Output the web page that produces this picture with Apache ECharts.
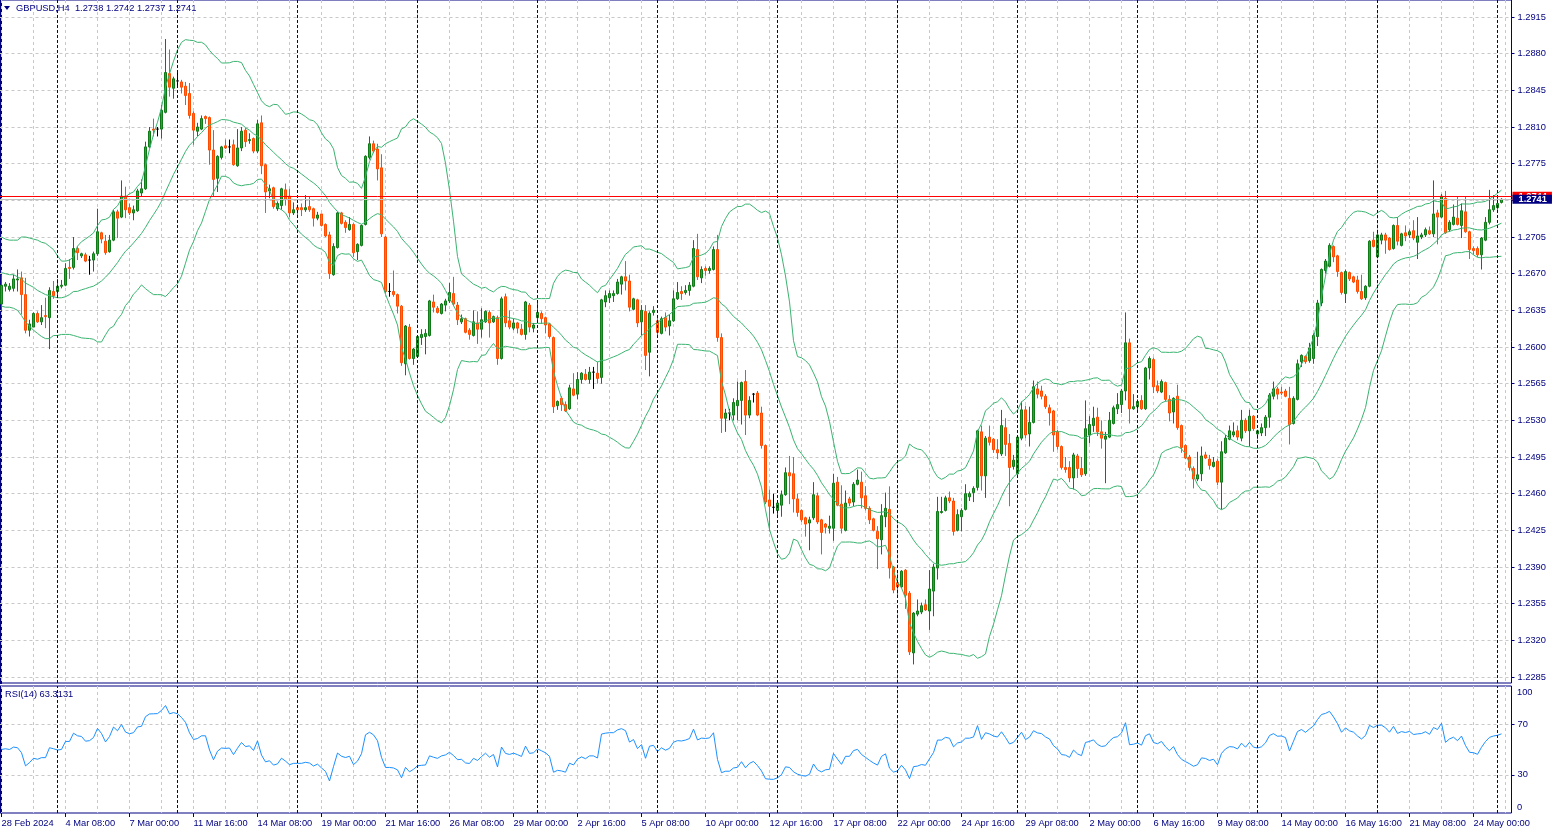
<!DOCTYPE html>
<html>
<head>
<meta charset="utf-8">
<title>GBPUSD,H4</title>
<script src="https://cdn.jsdelivr.net/npm/echarts@6/dist/echarts.min.js"></script>
<style>
  html, body { margin: 0; padding: 0; background: #fff; }
  #chart { width: 1554px; height: 836px; }
</style>
</head>
<body>
<div id="chart"></div>
<script>
// GBPUSD H4 bars, 28 Feb 2024 16:00 .. 27 May 2024 04:00
const opens = [
  1.2641,1.2658,1.2655,1.2656,1.2664,1.2666,1.2650,1.2616,1.2619,1.2632,
  1.2624,1.2630,1.2628,1.2653,1.2653,1.2658,1.2659,1.2676,1.2676,1.2694,
  1.2687,1.2688,1.2683,1.2683,1.2689,1.2709,1.2701,1.2691,1.2702,1.2729,
  1.2724,1.2744,1.2733,1.2728,1.2730,1.2747,1.2751,1.2791,1.2808,1.2808,
  1.2808,1.2824,1.2861,1.2847,1.2854,1.2853,1.2849,1.2842,1.2823,1.2806,
  1.2808,1.2820,1.2819,1.2788,1.2761,1.2781,1.2792,1.2791,1.2793,1.2773,
  1.2790,1.2807,1.2797,1.2799,1.2787,1.2814,1.2774,1.2749,1.2752,1.2732,
  1.2735,1.2750,1.2744,1.2728,1.2733,1.2733,1.2731,1.2734,1.2732,1.2723,
  1.2727,1.2717,1.2707,1.2669,1.2695,1.2728,1.2719,1.2712,1.2717,1.2691,
  1.2697,1.2717,1.2781,1.2794,1.2789,1.2771,1.2705,1.2653,1.2653,1.2650,
  1.2639,1.2584,1.2619,1.2589,1.2591,1.2609,1.2610,1.2611,1.2643,1.2637,
  1.2632,1.2640,1.2644,1.2651,1.2640,1.2624,1.2627,1.2616,1.2611,1.2623,
  1.2617,1.2624,1.2633,1.2624,1.2628,1.2589,1.2648,1.2625,1.2618,1.2623,
  1.2617,1.2612,1.2640,1.2618,1.2628,1.2632,1.2628,1.2622,1.2609,1.2544,
  1.2551,1.2545,1.2541,1.2560,1.2555,1.2569,1.2574,1.2569,1.2576,1.2575,
  1.2571,1.2643,1.2647,1.2649,1.2651,1.2660,1.2667,1.2663,1.2636,1.2645,
  1.2624,1.2634,1.2595,1.2633,1.2625,1.2613,1.2628,1.2620,1.2625,1.2646,
  1.2653,1.2652,1.2654,1.2658,1.2693,1.2666,1.2675,1.2673,1.2674,1.2693,
  1.2609,1.2532,1.2537,1.2535,1.2544,1.2549,1.2567,1.2535,1.2555,1.2556,
  1.2537,1.2506,1.2454,1.2447,1.2444,1.2449,1.2459,1.2480,1.2479,1.2455,
  1.2444,1.2437,1.2432,1.2437,1.2458,1.2435,1.2431,1.2427,1.2427,1.2471,
  1.2450,1.2425,1.2455,1.2452,1.2469,1.2471,1.2458,1.2446,1.2436,1.2424,
  1.2416,1.2438,1.2445,1.2390,1.2375,1.2371,1.2387,1.2365,1.2308,1.2345,
  1.2347,1.2354,1.2348,1.2367,1.2389,1.2442,1.2444,1.2456,1.2453,1.2425,
  1.2438,1.2445,1.2457,1.2461,1.2466,1.2519,1.2477,1.2514,1.2512,1.2502,
  1.2498,1.2523,1.2508,1.2486,1.2479,1.2513,1.2540,1.2517,1.2528,1.2560,
  1.2558,1.2553,1.2542,1.2539,1.2519,1.2505,1.2485,1.2485,1.2475,1.2496,
  1.2484,1.2479,1.2516,1.2525,1.2533,1.2519,1.2512,1.2514,1.2527,1.2541,
  1.2545,1.2558,1.2604,1.2541,1.2543,1.2549,1.2541,1.2580,1.2588,1.2563,
  1.2557,1.2566,1.2550,1.2538,1.2553,1.2525,1.2506,1.2495,1.2484,1.2474,
  1.2479,1.2497,1.2493,1.2486,1.2491,1.2471,1.2499,1.2512,1.2516,1.2520,
  1.2513,1.2530,1.2520,1.2534,1.2517,1.2518,1.2523,1.2533,1.2553,1.2560,
  1.2557,1.2558,1.2551,1.2527,1.2550,1.2586,1.2591,1.2587,1.2589,1.2610,
  1.2642,1.2673,1.2677,1.2696,1.2687,1.2671,1.2651,1.2671,1.2667,1.2664,
  1.2653,1.2647,1.2658,1.2702,1.2686,1.2702,1.2707,1.2704,1.2694,1.2716,
  1.2697,1.2709,1.2707,1.2711,1.2700,1.2705,1.2707,1.2711,1.2708,1.2728,
  1.2724,1.2742,1.2712,1.2717,1.2723,1.2716,1.2729,1.2710,1.2694,1.2694,
  1.2688,1.2702,1.2719,1.2731,1.2733,1.2738
];
const highs = [
  1.2669,1.2662,1.2661,1.2669,1.2674,1.2672,1.2666,1.2626,1.2633,1.2634,
  1.2640,1.2647,1.2657,1.2663,1.2665,1.2664,1.2680,1.2684,1.2705,1.2696,
  1.2690,1.2690,1.2687,1.2691,1.2732,1.2710,1.2707,1.2707,1.2731,1.2731,
  1.2759,1.2753,1.2737,1.2735,1.2751,1.2760,1.2796,1.2810,1.2818,1.2810,
  1.2831,1.2894,1.2884,1.2858,1.2862,1.2855,1.2853,1.2852,1.2825,1.2814,
  1.2821,1.2821,1.2820,1.2807,1.2783,1.2792,1.2798,1.2798,1.2798,1.2808,
  1.2810,1.2809,1.2804,1.2800,1.2817,1.2821,1.2775,1.2755,1.2753,1.2739,
  1.2752,1.2756,1.2751,1.2738,1.2736,1.2737,1.2745,1.2744,1.2733,1.2729,
  1.2727,1.2718,1.2710,1.2699,1.2729,1.2729,1.2721,1.2724,1.2718,1.2699,
  1.2717,1.2783,1.2801,1.2797,1.2794,1.2784,1.2706,1.2661,1.2673,1.2651,
  1.2640,1.2621,1.2622,1.2599,1.2611,1.2617,1.2617,1.2645,1.2650,1.2639,
  1.2642,1.2646,1.2661,1.2667,1.2643,1.2631,1.2628,1.2618,1.2635,1.2634,
  1.2637,1.2635,1.2635,1.2630,1.2630,1.2648,1.2651,1.2635,1.2627,1.2624,
  1.2622,1.2644,1.2642,1.2623,1.2642,1.2634,1.2629,1.2623,1.2610,1.2549,
  1.2553,1.2548,1.2564,1.2575,1.2576,1.2576,1.2579,1.2581,1.2581,1.2586,
  1.2646,1.2654,1.2654,1.2654,1.2665,1.2668,1.2682,1.2669,1.2647,1.2646,
  1.2640,1.2640,1.2634,1.2639,1.2629,1.2629,1.2633,1.2631,1.2654,1.2662,
  1.2658,1.2659,1.2662,1.2702,1.2708,1.2677,1.2677,1.2677,1.2696,1.2707,
  1.2613,1.2541,1.2541,1.2551,1.2567,1.2567,1.2578,1.2553,1.2556,1.2558,
  1.2543,1.2507,1.2464,1.2460,1.2452,1.2463,1.2485,1.2496,1.2495,1.2460,
  1.2445,1.2438,1.2438,1.2471,1.2461,1.2436,1.2432,1.2439,1.2479,1.2476,
  1.2468,1.2463,1.2457,1.2471,1.2483,1.2481,1.2467,1.2448,1.2437,1.2429,
  1.2450,1.2461,1.2467,1.2391,1.2384,1.2387,1.2388,1.2367,1.2347,1.2359,
  1.2356,1.2359,1.2387,1.2393,1.2457,1.2457,1.2458,1.2462,1.2456,1.2445,
  1.2446,1.2469,1.2462,1.2467,1.2521,1.2525,1.2515,1.2525,1.2513,1.2512,
  1.2540,1.2532,1.2517,1.2497,1.2515,1.2548,1.2544,1.2543,1.2568,1.2567,
  1.2563,1.2555,1.2545,1.2540,1.2521,1.2506,1.2495,1.2491,1.2499,1.2498,
  1.2495,1.2549,1.2534,1.2543,1.2542,1.2530,1.2519,1.2538,1.2544,1.2556,
  1.2560,1.2633,1.2608,1.2555,1.2550,1.2554,1.2581,1.2591,1.2590,1.2568,
  1.2569,1.2567,1.2554,1.2552,1.2564,1.2526,1.2507,1.2497,1.2486,1.2500,
  1.2505,1.2500,1.2497,1.2495,1.2493,1.2510,1.2516,1.2525,1.2528,1.2525,
  1.2540,1.2532,1.2540,1.2535,1.2521,1.2527,1.2535,1.2556,1.2567,1.2562,
  1.2562,1.2560,1.2562,1.2553,1.2588,1.2593,1.2592,1.2604,1.2613,1.2645,
  1.2675,1.2684,1.2699,1.2697,1.2688,1.2672,1.2674,1.2672,1.2668,1.2668,
  1.2669,1.2659,1.2702,1.2710,1.2709,1.2709,1.2709,1.2705,1.2717,1.2724,
  1.2709,1.2716,1.2712,1.2721,1.2724,1.2709,1.2714,1.2715,1.2759,1.2731,
  1.2746,1.2749,1.2721,1.2736,1.2744,1.2737,1.2744,1.2711,1.2696,1.2696,
  1.2705,1.2724,1.2750,1.2745,1.2744,1.2742
];
const lows = [
  1.2634,1.2653,1.2653,1.2653,1.2653,1.2631,1.2613,1.2610,1.2619,1.2623,
  1.2621,1.2618,1.2598,1.2646,1.2648,1.2656,1.2658,1.2665,1.2674,1.2683,
  1.2685,1.2681,1.2669,1.2672,1.2687,1.2699,1.2688,1.2690,1.2701,1.2704,
  1.2723,1.2723,1.2726,1.2721,1.2729,1.2744,1.2750,1.2790,1.2801,1.2801,
  1.2799,1.2823,1.2839,1.2837,1.2849,1.2842,1.2831,1.2818,1.2793,1.2801,
  1.2807,1.2813,1.2774,1.2744,1.2748,1.2779,1.2789,1.2785,1.2773,1.2772,
  1.2787,1.2791,1.2794,1.2785,1.2785,1.2765,1.2728,1.2742,1.2732,1.2730,
  1.2731,1.2735,1.2724,1.2726,1.2724,1.2725,1.2729,1.2729,1.2715,1.2721,
  1.2715,1.2705,1.2665,1.2668,1.2694,1.2717,1.2709,1.2711,1.2686,1.2683,
  1.2696,1.2716,1.2779,1.2785,1.2759,1.2705,1.2651,1.2648,1.2648,1.2632,
  1.2582,1.2573,1.2588,1.2583,1.2590,1.2602,1.2593,1.2610,1.2633,1.2632,
  1.2631,1.2634,1.2642,1.2639,1.2621,1.2622,1.2613,1.2607,1.2610,1.2603,
  1.2609,1.2623,1.2609,1.2623,1.2583,1.2588,1.2619,1.2617,1.2616,1.2613,
  1.2611,1.2607,1.2614,1.2614,1.2624,1.2622,1.2613,1.2608,1.2537,1.2540,
  1.2539,1.2538,1.2540,1.2553,1.2550,1.2565,1.2568,1.2565,1.2560,1.2565,
  1.2565,1.2638,1.2642,1.2643,1.2650,1.2650,1.2654,1.2634,1.2635,1.2619,
  1.2611,1.2578,1.2572,1.2630,1.2611,1.2612,1.2615,1.2611,1.2624,1.2645,
  1.2645,1.2650,1.2649,1.2657,1.2664,1.2661,1.2668,1.2670,1.2673,1.2605,
  1.2518,1.2519,1.2530,1.2530,1.2530,1.2526,1.2516,1.2532,1.2547,1.2534,
  1.2503,1.2450,1.2424,1.2441,1.2437,1.2438,1.2458,1.2450,1.2442,1.2438,
  1.2433,1.2419,1.2406,1.2435,1.2431,1.2402,1.2422,1.2422,1.2415,1.2448,
  1.2422,1.2424,1.2448,1.2448,1.2468,1.2446,1.2444,1.2431,1.2424,1.2388,
  1.2402,1.2428,1.2379,1.2365,1.2363,1.2370,1.2350,1.2306,1.2297,1.2343,
  1.2345,1.2348,1.2330,1.2343,1.2378,1.2441,1.2443,1.2451,1.2420,1.2424,
  1.2424,1.2444,1.2453,1.2452,1.2463,1.2463,1.2456,1.2506,1.2499,1.2493,
  1.2496,1.2496,1.2448,1.2483,1.2478,1.2511,1.2513,1.2505,1.2527,1.2551,
  1.2550,1.2541,1.2525,1.2500,1.2502,1.2483,1.2480,1.2471,1.2464,1.2475,
  1.2476,1.2477,1.2508,1.2519,1.2515,1.2503,1.2470,1.2513,1.2526,1.2536,
  1.2537,1.2549,1.2527,1.2540,1.2537,1.2540,1.2540,1.2569,1.2556,1.2556,
  1.2556,1.2548,1.2529,1.2527,1.2521,1.2499,1.2493,1.2482,1.2465,1.2472,
  1.2472,1.2493,1.2483,1.2485,1.2468,1.2445,1.2498,1.2511,1.2514,1.2511,
  1.2510,1.2518,1.2505,1.2520,1.2512,1.2515,1.2515,1.2523,1.2550,1.2550,
  1.2554,1.2552,1.2507,1.2526,1.2549,1.2581,1.2584,1.2585,1.2584,1.2601,
  1.2639,1.2670,1.2676,1.2681,1.2667,1.2650,1.2642,1.2663,1.2661,1.2651,
  1.2645,1.2645,1.2657,1.2695,1.2685,1.2698,1.2689,1.2692,1.2693,1.2697,
  1.2696,1.2701,1.2704,1.2702,1.2684,1.2703,1.2705,1.2707,1.2705,1.2698,
  1.2723,1.2708,1.2710,1.2716,1.2716,1.2704,1.2709,1.2684,1.2688,1.2686,
  1.2674,1.2701,1.2717,1.2729,1.2731,1.2737
];
const closes = [
  1.2659,1.2660,1.2658,1.2665,1.2665,1.2650,1.2616,1.2622,1.2632,1.2624,
  1.2628,1.2629,1.2654,1.2649,1.2658,1.2659,1.2675,1.2675,1.2694,1.2690,
  1.2689,1.2682,1.2683,1.2689,1.2710,1.2703,1.2690,1.2702,1.2729,1.2723,
  1.2744,1.2731,1.2728,1.2731,1.2749,1.2751,1.2791,1.2806,1.2807,1.2808,
  1.2826,1.2862,1.2848,1.2856,1.2854,1.2848,1.2840,1.2821,1.2807,1.2810,
  1.2818,1.2818,1.2788,1.2760,1.2782,1.2791,1.2790,1.2791,1.2774,1.2790,
  1.2806,1.2796,1.2798,1.2787,1.2813,1.2773,1.2748,1.2751,1.2734,1.2737,
  1.2751,1.2741,1.2728,1.2731,1.2731,1.2731,1.2733,1.2731,1.2723,1.2726,
  1.2716,1.2706,1.2670,1.2696,1.2728,1.2718,1.2714,1.2717,1.2690,1.2698,
  1.2716,1.2782,1.2794,1.2787,1.2770,1.2708,1.2653,1.2653,1.2650,1.2639,
  1.2585,1.2620,1.2589,1.2598,1.2610,1.2612,1.2613,1.2644,1.2638,1.2633,
  1.2641,1.2644,1.2652,1.2641,1.2626,1.2627,1.2614,1.2612,1.2624,1.2617,
  1.2626,1.2634,1.2623,1.2629,1.2589,1.2646,1.2623,1.2619,1.2623,1.2618,
  1.2612,1.2643,1.2619,1.2621,1.2633,1.2627,1.2621,1.2610,1.2543,1.2548,
  1.2545,1.2539,1.2561,1.2554,1.2569,1.2575,1.2569,1.2576,1.2576,1.2570,
  1.2645,1.2649,1.2651,1.2651,1.2662,1.2667,1.2663,1.2638,1.2646,1.2623,
  1.2635,1.2592,1.2632,1.2635,1.2614,1.2627,1.2619,1.2625,1.2646,1.2652,
  1.2651,1.2654,1.2659,1.2694,1.2667,1.2674,1.2673,1.2675,1.2693,1.2609,
  1.2532,1.2537,1.2537,1.2547,1.2549,1.2566,1.2535,1.2549,1.2555,1.2535,
  1.2506,1.2452,1.2448,1.2447,1.2451,1.2459,1.2480,1.2477,1.2455,1.2442,
  1.2435,1.2431,1.2435,1.2459,1.2433,1.2423,1.2428,1.2429,1.2470,1.2449,
  1.2427,1.2451,1.2451,1.2469,1.2473,1.2456,1.2446,1.2435,1.2425,1.2417,
  1.2439,1.2446,1.2389,1.2368,1.2371,1.2386,1.2363,1.2309,1.2346,1.2348,
  1.2353,1.2349,1.2369,1.2390,1.2443,1.2443,1.2456,1.2453,1.2424,1.2440,
  1.2444,1.2460,1.2460,1.2465,1.2520,1.2477,1.2513,1.2509,1.2502,1.2499,
  1.2525,1.2507,1.2485,1.2492,1.2514,1.2540,1.2516,1.2528,1.2562,1.2555,
  1.2553,1.2543,1.2537,1.2516,1.2505,1.2485,1.2483,1.2475,1.2497,1.2484,
  1.2478,1.2522,1.2526,1.2532,1.2519,1.2513,1.2515,1.2530,1.2542,1.2545,
  1.2558,1.2604,1.2541,1.2543,1.2548,1.2541,1.2580,1.2589,1.2562,1.2558,
  1.2567,1.2550,1.2537,1.2551,1.2523,1.2504,1.2494,1.2485,1.2474,1.2478,
  1.2496,1.2494,1.2487,1.2490,1.2471,1.2500,1.2513,1.2520,1.2519,1.2514,
  1.2530,1.2520,1.2534,1.2522,1.2520,1.2523,1.2533,1.2554,1.2560,1.2555,
  1.2556,1.2553,1.2526,1.2551,1.2584,1.2592,1.2586,1.2599,1.2611,1.2642,
  1.2674,1.2682,1.2697,1.2686,1.2672,1.2652,1.2672,1.2665,1.2662,1.2653,
  1.2646,1.2658,1.2701,1.2696,1.2707,1.2707,1.2702,1.2693,1.2716,1.2701,
  1.2708,1.2706,1.2710,1.2704,1.2706,1.2707,1.2712,1.2708,1.2727,1.2724,
  1.2744,1.2709,1.2719,1.2724,1.2717,1.2730,1.2710,1.2693,1.2692,1.2688,
  1.2704,1.2719,1.2731,1.2735,1.2737,1.2741
];

// indicator values before a full 20/14 bar window is available
const bbLeadUpper = [1.2705,1.2703,1.2702,1.2702,1.2702,1.2705,1.2705,1.2704,1.2703,1.2702,
                     1.2700,1.2699,1.2696,1.2693,1.2687,1.2682,1.2682,1.2683,1.2686];
const bbLeadMiddle = [1.2671,1.2670,1.2669,1.2669,1.2667,1.2665,1.2661,1.2659,1.2657,1.2654,
                      1.2652,1.2650,1.2649,1.2648,1.2647,1.2647,1.2648,1.2650,1.2653];
const bbLeadLower = [1.2639,1.2638,1.2638,1.2637,1.2635,1.2630,1.2624,1.2620,1.2616,1.2613,
                     1.2610,1.2608,1.2608,1.2611,1.2611,1.2612,1.2612,1.2612,1.2611];
const rsiLead = [50.0,50.6,50.0,51.9,51.4,47.5,37.1,39.7,43.1,42.3,43.6,43.6,51.4,50.6];

const tickLabels = [
  '28 Feb 2024','4 Mar 08:00','7 Mar 00:00','11 Mar 16:00','14 Mar 08:00','19 Mar 00:00',
  '21 Mar 16:00','26 Mar 08:00','29 Mar 00:00','2 Apr 16:00','5 Apr 08:00','10 Apr 00:00',
  '12 Apr 16:00','17 Apr 08:00','22 Apr 00:00','24 Apr 16:00','29 Apr 08:00','2 May 00:00',
  '6 May 16:00','9 May 08:00','14 May 00:00','16 May 16:00','21 May 08:00','24 May 00:00'
];
const priceTicks = [1.2285,1.2320,1.2355,1.2390,1.2425,1.2460,1.2495,1.2530,1.2565,1.2600,
                    1.2635,1.2670,1.2705,1.2740,1.2775,1.2810,1.2845,1.2880,1.2915];
const rsiLevels = [30, 70];
const bidPrice = 1.2741;
const askPrice = 1.2744;

const NAVY = '#000080';
const GRID = '#c8c8c8';
const FONT = 'Liberation Sans, Arial, sans-serif';
const FSIZE = 9.3;

// bar times (H4, no weekends); two empty slots after the last bar (chart shift)
const times = [];
let t = Date.UTC(2024, 1, 28, 16);
while (times.length < opens.length + 2) {
  const d = new Date(t);
  if (d.getUTCDay() !== 0 && d.getUTCDay() !== 6) times.push(d);
  t += 4 * 3600 * 1000;
}
const categories = times.map(d => d.toISOString().slice(0, 16).replace('T', ' '));
const separators = [];
times.forEach((d, i) => { if (d.getUTCDay() === 1 && d.getUTCHours() === 0) separators.push(i); });

// Bollinger Bands (20, 2) on close
const bbUp = [], bbMid = [], bbLow = [];
for (let i = 0; i < closes.length; i++) {
  if (i < 19) { bbUp.push(bbLeadUpper[i]); bbMid.push(bbLeadMiddle[i]); bbLow.push(bbLeadLower[i]); continue; }
  const win = closes.slice(i - 19, i + 1);
  const m = win.reduce((a, b) => a + b, 0) / 20;
  const sd = Math.sqrt(win.reduce((a, b) => a + (b - m) * (b - m), 0) / 20);
  bbMid.push(+m.toFixed(5)); bbUp.push(+(m + 2 * sd).toFixed(5)); bbLow.push(+(m - 2 * sd).toFixed(5));
}

// RSI(14), Wilder smoothing
const rsi = rsiLead.slice();
let avgGain = 0, avgLoss = 0;
for (let i = 1; i <= 14; i++) {
  const ch = closes[i] - closes[i - 1];
  if (ch > 0) avgGain += ch; else avgLoss -= ch;
}
avgGain /= 14; avgLoss /= 14;
rsi.push(+(100 - 100 / (1 + avgGain / avgLoss)).toFixed(2));
for (let i = 15; i < closes.length; i++) {
  const ch = closes[i] - closes[i - 1];
  avgGain = (avgGain * 13 + Math.max(ch, 0)) / 14;
  avgLoss = (avgLoss * 13 + Math.max(-ch, 0)) / 14;
  rsi.push(+(100 - 100 / (1 + avgGain / avgLoss)).toFixed(2));
}

const candles = opens.map((o, i) => [o, closes[i], lows[i], highs[i]]);

// price axis bounds: 1.2915 sits 17px below grid top, 0.0035 per 36.67px
const pxPerUnit = 36.667 / 0.0035;
const priceMax = 1.2915 + 17 / pxPerUnit;
const priceMin = priceMax - 683 / pxPerUnit;

const sepLines = separators.map(i => ({ xAxis: i }));
const labelStyle = { color: NAVY, fontFamily: FONT, fontSize: FSIZE };
const priceLabel = (price, bg) => ({
  show: true, position: 'end', distance: 1, formatter: price.toFixed(4),
  backgroundColor: bg, color: '#fff', padding: [0, 5, 0, 6], lineHeight: 9,
  fontFamily: FONT, fontSize: FSIZE, fontWeight: 'bold'
});

const chart = echarts.init(document.getElementById('chart'));
chart.setOption({
  animation: false,
  backgroundColor: '#fff',
  textStyle: { fontFamily: FONT },
  grid: [
    { left: -0.5, top: 0, width: 1512, height: 683, show: true, borderColor: NAVY, borderWidth: 1, outerBoundsMode: 'none' },
    { left: -0.5, top: 686, width: 1512, height: 127, show: true, borderColor: NAVY, borderWidth: 1, outerBoundsMode: 'none' }
  ],
  xAxis: [
    {
      type: 'category', gridIndex: 0, data: categories, boundaryGap: true,
      axisLine: { show: false }, axisTick: { show: false }, axisLabel: { show: false },
      splitLine: { show: true, interval: 7, alignWithLabel: true, lineStyle: { color: GRID, type: [3, 3], width: 1 } }
    },
    {
      type: 'category', gridIndex: 1, data: categories, boundaryGap: true,
      axisLine: { show: false },
      axisTick: { show: true, interval: 15, alignWithLabel: true, length: 4, lineStyle: { color: NAVY } },
      axisLabel: Object.assign({
        show: true, interval: 15, align: 'left', margin: 6,
        formatter: (v, idx) => (idx % 16 === 0 && tickLabels[idx / 16]) || ''
      }, labelStyle),
      splitLine: { show: true, interval: 7, alignWithLabel: true, lineStyle: { color: GRID, type: [3, 3], width: 1 } }
    }
  ],
  yAxis: [
    {
      type: 'value', gridIndex: 0, position: 'right', min: priceMin, max: priceMax,
      axisLine: { show: false },
      axisTick: { show: true, customValues: priceTicks, length: 3, lineStyle: { color: NAVY } },
      axisLabel: Object.assign({ customValues: priceTicks, margin: 6, formatter: v => v.toFixed(4) }, labelStyle),
      splitLine: { show: true, lineStyle: { color: GRID, type: [3, 3], width: 1 } }
    },
    {
      type: 'value', gridIndex: 1, position: 'right', min: 0, max: 100,
      axisLine: { show: false },
      axisTick: { show: true, customValues: rsiLevels, length: 3, lineStyle: { color: NAVY } },
      axisLabel: Object.assign({ customValues: rsiLevels, margin: 6 }, labelStyle),
      splitLine: { show: true, lineStyle: { color: GRID, type: [3, 3], width: 1 } }
    }
  ],
  series: [
    {
      name: 'GBPUSD', type: 'candlestick', xAxisIndex: 0, yAxisIndex: 0,
      data: candles, barWidth: 3, large: false, silent: true,
      itemStyle: {
        color: '#2fa52f', color0: '#ff7a1a',
        borderColor: '#0f7a17', borderColor0: '#ff4a00', borderColorDoji: '#000000', borderWidth: 1
      },
      markLine: {
        silent: true, symbol: 'none', animation: false, precision: 4,
        label: { show: false },
        lineStyle: { color: NAVY, type: [3, 2], width: 1 },
        data: sepLines.concat([
          { yAxis: askPrice, lineStyle: { color: '#ff0000', type: 'solid', width: 1 }, label: priceLabel(askPrice, '#ff0000') },
          { yAxis: bidPrice, lineStyle: { color: '#c0c0c0', type: 'solid', width: 1 }, label: priceLabel(bidPrice, NAVY) }
        ])
      }
    },
    { name: 'BB upper', type: 'line', xAxisIndex: 0, yAxisIndex: 0, data: bbUp, symbol: 'none', silent: true,
      lineStyle: { color: '#3cb371', width: 1 } },
    { name: 'BB middle', type: 'line', xAxisIndex: 0, yAxisIndex: 0, data: bbMid, symbol: 'none', silent: true,
      lineStyle: { color: '#3cb371', width: 1 } },
    { name: 'BB lower', type: 'line', xAxisIndex: 0, yAxisIndex: 0, data: bbLow, symbol: 'none', silent: true,
      lineStyle: { color: '#3cb371', width: 1 } },
    {
      name: 'RSI(14)', type: 'line', xAxisIndex: 1, yAxisIndex: 1, data: rsi, symbol: 'none', silent: true,
      lineStyle: { color: '#1e90ff', width: 1 },
      markLine: {
        silent: true, symbol: 'none', animation: false, label: { show: false },
        lineStyle: { color: NAVY, type: [3, 2], width: 1 },
        data: sepLines
      }
    }
  ],
  graphic: [
    { type: 'rect', shape: { x: 0, y: 0, width: 2, height: 684 }, style: { fill: NAVY } },
    { type: 'rect', shape: { x: 0, y: 686, width: 2, height: 127 }, style: { fill: NAVY } },
    { type: 'polygon', shape: { points: [[4, 6], [10, 6], [7, 10]] }, style: { fill: NAVY } },
    { type: 'text', x: 16, y: 8, style: { text: 'GBPUSD,H4  1.2738 1.2742 1.2737 1.2741', fill: NAVY,
      font: FSIZE + 'px ' + FONT, textVerticalAlign: 'middle' } },
    { type: 'text', x: 5, y: 694, style: { text: 'RSI(14) 63.3131', fill: NAVY,
      font: FSIZE + 'px ' + FONT, textVerticalAlign: 'middle' } },
    { type: 'text', x: 1517, y: 692, style: { text: '100', fill: NAVY,
      font: FSIZE + 'px ' + FONT, textVerticalAlign: 'middle' } },
    { type: 'text', x: 1517, y: 807, style: { text: '0', fill: NAVY,
      font: FSIZE + 'px ' + FONT, textVerticalAlign: 'middle' } }
  ]
});
</script>
</body>
</html>
